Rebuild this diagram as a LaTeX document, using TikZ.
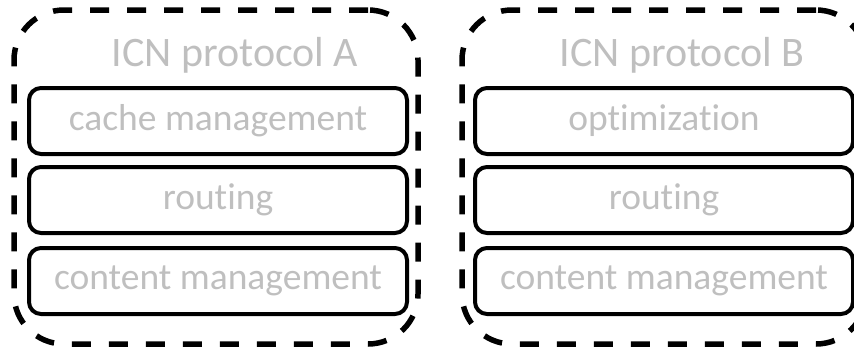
\documentclass[tikz,border=0pt]{standalone}
\usepackage{fontspec}
\setmainfont[Ligatures=NoCommon]{Carlito}
\usepackage{xcolor}
\definecolor{labelgray}{HTML}{BFBFBF}

\begin{document}
\begin{tikzpicture}[x=1pt,y=-1pt,
    group/.style={draw, line width=5.5pt, dash pattern=on 19pt off 18pt, rounded corners=50pt,
      minimum width=404pt, minimum height=334pt, inner sep=0pt},
    layer/.style={draw, line width=4pt, rounded corners=12pt, minimum width=378pt,
      minimum height=66pt, inner sep=0pt, text=labelgray, font=\fontsize{37.5}{42}\selectfont},
    title/.style={text=labelgray, font=\fontsize{42}{46}\selectfont, inner sep=0pt}]
      \clip (0,0) rectangle (854,351);
      % Protocol A
      \node[group] (grpA) at (216,177) {};
      \node[title] (titleA) at (235,55) {ICN protocol A};
      \node[layer] (cacheA) at (218,121) {cache management};
      \node[layer] (routeA) at (218,200) {routing};
      \node[layer] (contentA) at (218,281) {content management};
      % Protocol B
      \node[group] (grpB) at (664,177) {};
      \node[title] (titleB) at (682,55) {ICN protocol B};
      \node[layer] (optB) at (664,121) {optimization};
      \node[layer] (routeB) at (664,200) {routing};
      \node[layer] (contentB) at (664,281) {content management};
    \end{tikzpicture}
\end{document}
